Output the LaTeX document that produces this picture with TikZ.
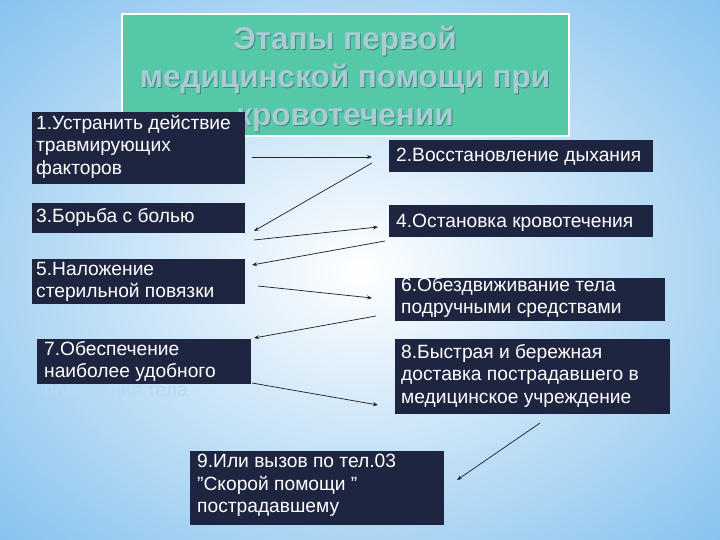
\documentclass[tikz,border=0pt]{standalone}
\usepackage{fontspec}
\setmainfont{Liberation Sans}
\usetikzlibrary{arrows.meta,shadings}
\definecolor{navy}{HTML}{1E2540}
\definecolor{teal}{HTML}{55C8A8}
\definecolor{ttl}{HTML}{A9CBD6}
\definecolor{edge}{HTML}{86C2EE}
\begin{document}
\begin{tikzpicture}[x=1pt,y=-1pt,
  box/.style={draw=none,fill=navy,anchor=north west,inner sep=0pt},
  txt/.style={anchor=north west,text=white,align=left,inner sep=0pt,font=\fontsize{19.2}{22.5}\selectfont},
  arr/.style={-{Stealth[length=5pt,width=4pt]},line width=0.75pt,black!85}]
\useasboundingbox (0,0) rectangle (720,540);
\shade[inner color=white,outer color=edge] (-150,-120) rectangle (870,660);
\fill[white] (121,13) rectangle (570,137);
\fill[teal] (123,15) rectangle (568,135);
\node[font=\bfseries\fontsize{31.5}{38}\selectfont,text=teal!70!black,align=center] at (346,80) {Этапы первой\\медицинской помощи при\\кровотечении};
\node[font=\bfseries\fontsize{31.5}{38}\selectfont,text=ttl,align=center] (title) at (345,79) {Этапы первой\\медицинской помощи при\\кровотечении};
\node[box,minimum width=213pt,minimum height=72pt] (b1) at (32,112) {};
\node[txt] at (36,115) {1.Устранить действие\\травмирующих\\факторов};
\node[box,minimum width=264pt,minimum height=32pt] (b2) at (389,140) {};
\node[txt,anchor=west] at (396,157) {2.Восстановление дыхания};
\node[box,minimum width=213pt,minimum height=30pt] (b3) at (32,203) {};
\node[txt,anchor=west] at (36,217) {3.Борьба с болью};
\node[box,minimum width=264pt,minimum height=32pt] (b4) at (389,205) {};
\node[txt,anchor=west] at (396,223) {4.Остановка кровотечения};
\node[box,minimum width=213pt,minimum height=45pt] (b5) at (32,259) {};
\node[txt] at (36,262) {5.Наложение\\стерильной повязки};
\node[box,minimum width=270pt,minimum height=43pt] (b6) at (395,278) {};
\node[txt] at (401,277) {6.Обездвиживание тела\\подручными средствами};
\node[box,minimum width=214pt,minimum height=45pt] (b7) at (37,339) {};
\node[txt] at (44,341) {7.Обеспечение\\наиболее удобного};
\node[txt,text=edge!60!white] (b7x) at (44,386) {положения тела};
\node[box,minimum width=275pt,minimum height=75pt] (b8) at (395,339) {};
\node[txt] at (401,344) {8.Быстрая и бережная\\доставка пострадавшего в\\медицинское учреждение};
\node[box,minimum width=254pt,minimum height=74pt] (b9) at (190,451) {};
\node[txt] at (197,454) {9.Или вызов по тел.03\\"Скорой помощи "\\пострадавшему};
\coordinate (a1) at (252,157); \coordinate (a2) at (372,157);
\draw[arr] (a1) -- (a2);
\coordinate (c1) at (372,163); \coordinate (c2) at (254,231);
\draw[arr] (c1) -- (c2);
\coordinate (d1) at (254,240); \coordinate (d2) at (378,227);
\draw[arr] (d1) -- (d2);
\coordinate (e1) at (385,241); \coordinate (e2) at (252,265);
\draw[arr] (e1) -- (e2);
\coordinate (f1) at (258,286); \coordinate (f2) at (372,298);
\draw[arr] (f1) -- (f2);
\coordinate (g1) at (376,316); \coordinate (g2) at (254,338);
\draw[arr] (g1) -- (g2);
\coordinate (h1) at (252,383); \coordinate (h2) at (378,405);
\draw[arr] (h1) -- (h2);
\coordinate (i1) at (540,423); \coordinate (i2) at (457,480);
\draw[arr] (i1) -- (i2);
\end{tikzpicture}
\end{document}
